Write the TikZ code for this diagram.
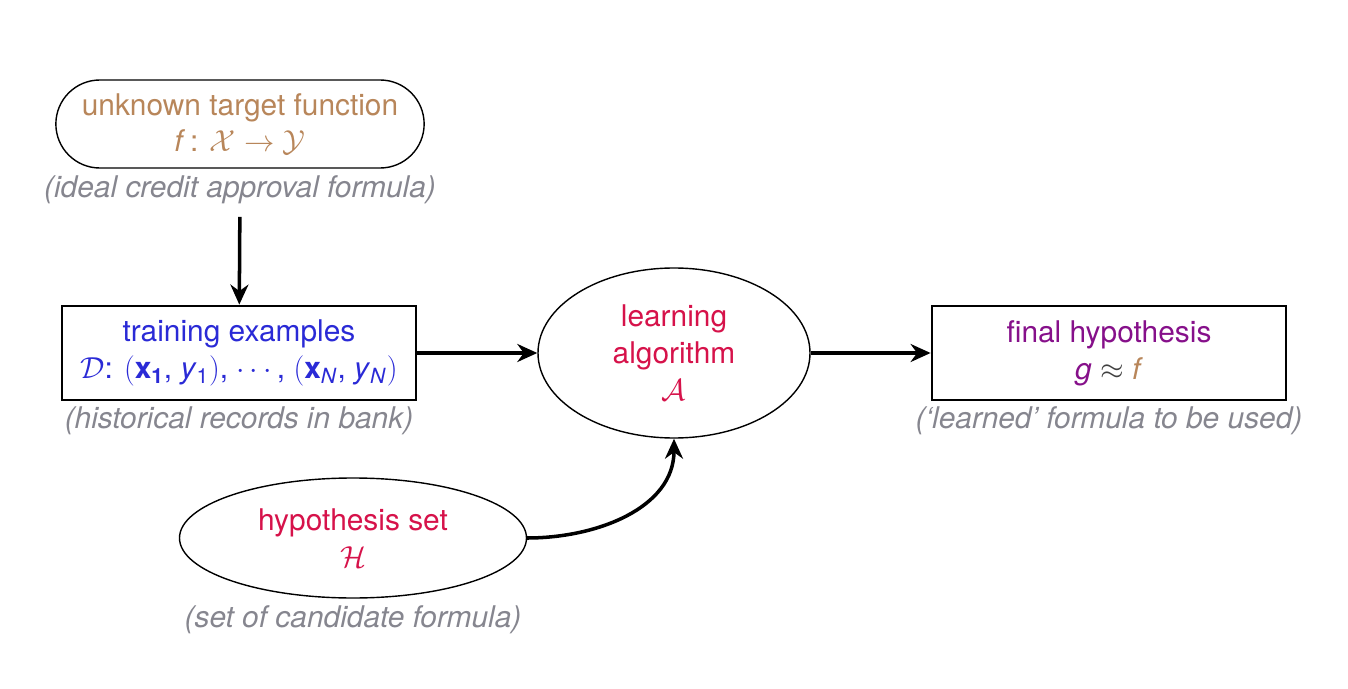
\documentclass[tikz,border=0pt]{standalone}
\usepackage{fontspec}
\setmainfont{TeX Gyre Heros}
\usetikzlibrary{arrows.meta,positioning,shapes.geometric,shapes.misc}
\definecolor{targetBrown}{HTML}{B8865A}
\definecolor{dataBlue}{HTML}{2A2AD6}
\definecolor{algoRed}{HTML}{D6124A}
\definecolor{finalPurple}{HTML}{86108A}
\definecolor{noteGray}{HTML}{86868F}

\begin{document}
\begin{tikzpicture}[font=\fontsize{17}{21}\selectfont,>={Stealth[length=4mm,width=3.6mm]},
    boxnode/.style={draw,line width=1.6pt,minimum width=7.08cm,minimum height=1.88cm,align=center,inner sep=2pt},
    ovalnode/.style={draw,ellipse,line width=0.8pt,align=center,inner sep=0pt},
    note/.style={text=noteGray,font=\fontsize{17}{21}\selectfont\itshape,inner sep=1pt},
    flow/.style={->,line width=2pt}]
  \useasboundingbox (0,0) rectangle (26.96,13.76);
  % the four parts of the learning set-up
  \node[draw,rounded rectangle,line width=0.8pt,minimum width=7.6cm,minimum height=1.76cm,
        align=center,text=targetBrown] (target) at (4.8,11.28)
        {unknown target function\\ \textit{f}\,: $\mathcal{X} \rightarrow \mathcal{Y}$};
  \node[note,below=3pt of target] (targetnote) {(ideal credit approval formula)};
  \node[boxnode,text=dataBlue] (train) at (4.78,6.7)
        {training examples\\ $\mathcal{D}$: $\bigl($\textbf{x}\textsubscript{\textbf{1}}, \textit{y}\textsubscript{1}$\bigr)$, $\cdots$\,, $\bigl($\textbf{x}\textsubscript{\textit{N}}, \textit{y}\textsubscript{\textit{N}}$\bigr)$};
  \node[note,below=2pt of train] (trainnote) {(historical records in bank)};
  \node[ovalnode,minimum width=5.44cm,minimum height=3.4cm,text=algoRed] (algo) at (13.48,6.7)
        {learning\\ algorithm\\ $\mathcal{A}$};
  \node[boxnode,text=finalPurple] (final) at (22.18,6.7)
        {final hypothesis\\ \textit{g} \textcolor{black!75}{$\approx$} \textcolor{targetBrown}{\textit{f}}};
  \node[note,below=2pt of final] (finalnote) {(`learned' formula to be used)};
  \node[ovalnode,minimum width=6.94cm,minimum height=2.4cm,text=algoRed] (hyp) at (7.06,3.0)
        {hypothesis set\\ $\mathcal{H}$};
  \node[note,below=3pt of hyp] (hypnote) {(set of candidate formula)};
  % connectors
  \draw[flow,shorten <=6pt] (targetnote) -- (train);
  \draw[flow] (train) -- (algo);
  \draw[flow] (algo) -- (final);
  \draw[flow] (hyp.east) to[out=0,in=-90] (algo.south);
\end{tikzpicture}
\end{document}
